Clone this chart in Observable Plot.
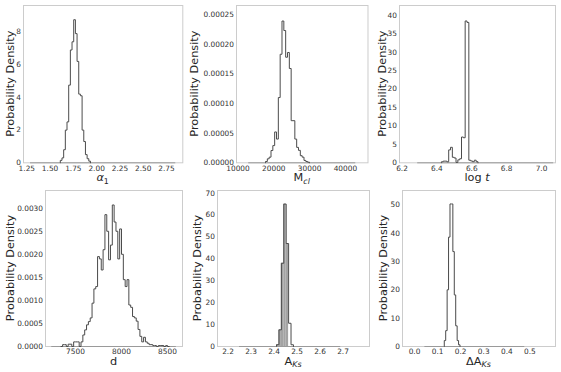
<!DOCTYPE html>
<html><head><meta charset="utf-8">
<script src="https://cdn.jsdelivr.net/npm/d3@7"></script>
<script src="https://cdn.jsdelivr.net/npm/@observablehq/plot@0.6"></script>
<style>
html,body{margin:0;padding:0;background:#fff;}
#fig{position:relative;width:561px;height:372px;overflow:hidden;background:#fff;}
#fig svg{position:absolute;overflow:visible;}
</style></head><body><div id="fig"></div>
<script>
// ---------- data (probability density per bin) ----------
const alpha1Start = 1.61, alpha1Width = 0.018;
const alpha1Density = [0.15,0.3,0.8,2.0,2.5,4.75,6.9,7.4,8.75,7.9,6.2,4.2,4.1,2.0,1.3,0.5,0.25,0.1];
const alpha1Range = [1.29, 2.85];
const alpha1XTicks = [1.25,1.5,1.75,2.0,2.25,2.5,2.75];
const alpha1YTicks = [0,2,4,6,8];

const mclStart = 17682, mclWidth = 512;
const mclDensity = [0.22e-5,0.67e-5,0.95e-5,2.07e-5,2.9e-5,5.2e-5,4.0e-5,11.0e-5,18.3e-5,23.9e-5,22.3e-5,17.8e-5,18.6e-5,15.9e-5,7.1e-5,7.1e-5,4.0e-5,2.6e-5,2.1e-5,1.2e-5,0.95e-5,0.4e-5,0.22e-5,0.1e-5];
const mclRange = [13000, 42900];
const mclXTicks = [10000,20000,30000,40000];
const mclYTicks = [0,0.00005,0.0001,0.00015,0.0002,0.00025];

const logtStart = 6.4258, logtWidth = 0.0105;
const logtDensity = [0.27,0.45,0.45,0.27,3.5,4.2,1.5,1.3,0.1,0.8,1.1,7.0,6.8,38.5,38.1,0.7,0.5,0.3,0.7,0.3];
const logtRange = [6.29, 7.07];
const logtXTicks = [6.2,6.4,6.6,6.8,7.0];
const logtYTicks = [0,5,10,15,20,25,30,35,40];

const dStart = 7340, dWidth = 20;
const dDensity = [0,0.00004,0.00004,0,0.00005,0.00005,0,0.0001,0.0001,0.0001,0,0.0001,0.00025,0.00036,0.00047,0.00054,0.00062,0.00094,0.00125,0.0013,0.00195,0.0019,0.00166,0.0021,0.00286,0.0025,0.00188,0.0022,0.00307,0.0027,0.0025,0.0019,0.00255,0.002,0.00145,0.0013,0.00145,0.0009,0.00085,0.00065,0.00062,0.00055,0.00037,0.00022,0.0001,0.0002,0.0001,0.00007,0.00004,0.00004,0.00002,0.00002,0,0.00002,0.00002,0.00002,0,0.00002,0];
const dRange = [7242, 8596];
const dXTicks = [7500,8000,8500];
const dYTicks = [0,0.0005,0.001,0.0015,0.002,0.0025,0.003];

const aksStart = 2.411, aksWidth = 0.0105;
const aksDensity = [0.8,7.6,38,65,47,10.6,0.8];
const aksRange = [2.25, 2.69];
const aksXTicks = [2.2,2.3,2.4,2.5,2.6,2.7];
const aksYTicks = [0,10,20,30,40,50,60,70];

const daksStart = 0.129, daksWidth = 0.0062;
const daksDensity = [2.1,5.6,20,38.6,50.3,50.3,33.5,18.2,7.3,2.1,0.6];
const daksRange = [0.045, 0.478];
const daksXTicks = [0,0.1,0.2,0.3,0.4,0.5];
const daksYTicks = [0,10,20,30,40,50];

// ---------- layout ----------
const fig = document.getElementById("fig");
const ML = 60, MR = 4, MT = 4, MB = 30;
const TICK_FONT = 7.4, LABEL_FONT = 11.3;

function panel(cfg) {
  const [fl, ft, fr, fb] = cfg.frame;
  const W = fr - fl + ML + MR, H = fb - ft + MT + MB;
  const pts = [{x: cfg.start, y: 0}];
  cfg.density.forEach((v, i) => pts.push({x: cfg.start + i * cfg.width, y: v}));
  pts.push({x: cfg.start + cfg.density.length * cfg.width, y: 0});
  const bins = cfg.density.map((v, i) => ({x1: cfg.start + i * cfg.width, x2: cfg.start + (i + 1) * cfg.width, y: v}));
  const svg = Plot.plot({
    width: W, height: H,
    marginLeft: ML, marginRight: MR, marginTop: MT, marginBottom: MB,
    style: {fontFamily: "DejaVu Sans", fontSize: TICK_FONT + "px", color: "#333", background: "transparent", overflow: "visible"},
    x: {type: "linear", domain: cfg.xDomain},
    y: {type: "linear", domain: cfg.yDomain},
    marks: [
      cfg.fill ? Plot.rectY(bins.filter(cfg.fill), {x1: "x1", x2: "x2", y: "y", fill: "#a3a3a3"}) : null,
      Plot.frame({stroke: "#cccccc"}),
      Plot.ruleY([0], {x1: cfg.range[0], x2: cfg.range[1], stroke: "#9a9a9a"}),
      Plot.line(pts, {x: "x", y: "y", curve: "step-after", stroke: "#4a4a4a", strokeWidth: 1}),
      Plot.axisX({ticks: cfg.xTicks, tickFormat: cfg.xFmt, tickSize: 0, tickPadding: 2.5, label: null}),
      Plot.axisY({ticks: cfg.yTicks, tickFormat: cfg.yFmt, tickSize: 0, tickPadding: 2.5, label: null})
    ]
  });
  svg.style.left = (fl - ML) + "px";
  svg.style.top = (ft - MT) + "px";
  const s = d3.select(svg);
  s.append("text")
    .attr("transform", `translate(${ML - cfg.yLabelOffset},${MT + (fb - ft) / 2}) rotate(-90)`)
    .attr("text-anchor", "middle").attr("dy", "0.35em")
    .attr("font-family", "DejaVu Sans").attr("font-size", LABEL_FONT + "px").attr("fill", "#262626")
    .text("Probability Density");
  const xl = s.append("text")
    .attr("x", ML + (fr - fl) / 2).attr("y", MT + (fb - ft) + 15)
    .attr("text-anchor", "middle").attr("dy", "0.35em")
    .attr("font-family", "DejaVu Sans").attr("font-size", LABEL_FONT + "px").attr("fill", "#262626");
  cfg.xLabel.forEach(part => {
    const t = xl.append("tspan").text(part.t);
    if (part.italic) t.attr("font-style", "italic");
    if (part.sub) t.attr("font-size", (LABEL_FONT * 0.7) + "px").attr("dy", "0.3em");
  });
  fig.appendChild(svg);
}

const f2 = d3.format(".2f"), f1 = d3.format(".1f"), f0 = d3.format("d");

panel({frame: [22.7, 5, 182, 162.3], xDomain: [1.2146, 2.9256], yDomain: [0, 9.62],
  start: alpha1Start, width: alpha1Width, density: alpha1Density, range: alpha1Range,
  xTicks: alpha1XTicks, yTicks: alpha1YTicks, xFmt: f2, yFmt: f0, yLabelOffset: 13.4,
  xLabel: [{t: "α", italic: true}, {t: "1", sub: true}]});

panel({frame: [236, 5, 367.5, 162.3], xDomain: [9581, 46313], yDomain: [0, 0.0002652],
  start: mclStart, width: mclWidth, density: mclDensity, range: mclRange,
  xTicks: mclXTicks, yTicks: mclYTicks, xFmt: f0, yFmt: d3.format(".5f"), yLabelOffset: 41.7,
  xLabel: [{t: "M"}, {t: "cl", italic: true, sub: true}]});

panel({frame: [399, 5, 555, 162.3], xDomain: [6.1857, 7.0803], yDomain: [0, 42.7],
  start: logtStart, width: logtWidth, density: logtDensity, range: logtRange,
  xTicks: logtXTicks, yTicks: logtYTicks, xFmt: f1, yFmt: f0, yLabelOffset: 17.3,
  xLabel: [{t: "log "}, {t: "t", italic: true}]});

panel({frame: [45, 190, 182, 346], xDomain: [7174, 8663], yDomain: [0, 0.003384],
  start: dStart, width: dWidth, density: dDensity, range: dRange,
  xTicks: dXTicks, yTicks: dYTicks, xFmt: f0, yFmt: d3.format(".4f"), yLabelOffset: 35,
  xLabel: [{t: "d"}]});

panel({frame: [217, 190, 369, 346], xDomain: [2.1543, 2.8152], yDomain: [0, 71.2],
  start: aksStart, width: aksWidth, density: aksDensity, range: aksRange,
  xTicks: aksXTicks, yTicks: aksYTicks, xFmt: f1, yFmt: f0, yLabelOffset: 20.3,
  fill: d => d.x1 < 2.455,
  xLabel: [{t: "A"}, {t: "Ks", italic: true, sub: true}]});

panel({frame: [402, 190, 555, 346], xDomain: [-0.052, 0.611], yDomain: [0, 55.05],
  start: daksStart, width: daksWidth, density: daksDensity, range: daksRange,
  xTicks: daksXTicks, yTicks: daksYTicks, xFmt: f1, yFmt: f0, yLabelOffset: 19.3,
  xLabel: [{t: "ΔA"}, {t: "Ks", italic: true, sub: true}]});
</script></body></html>
